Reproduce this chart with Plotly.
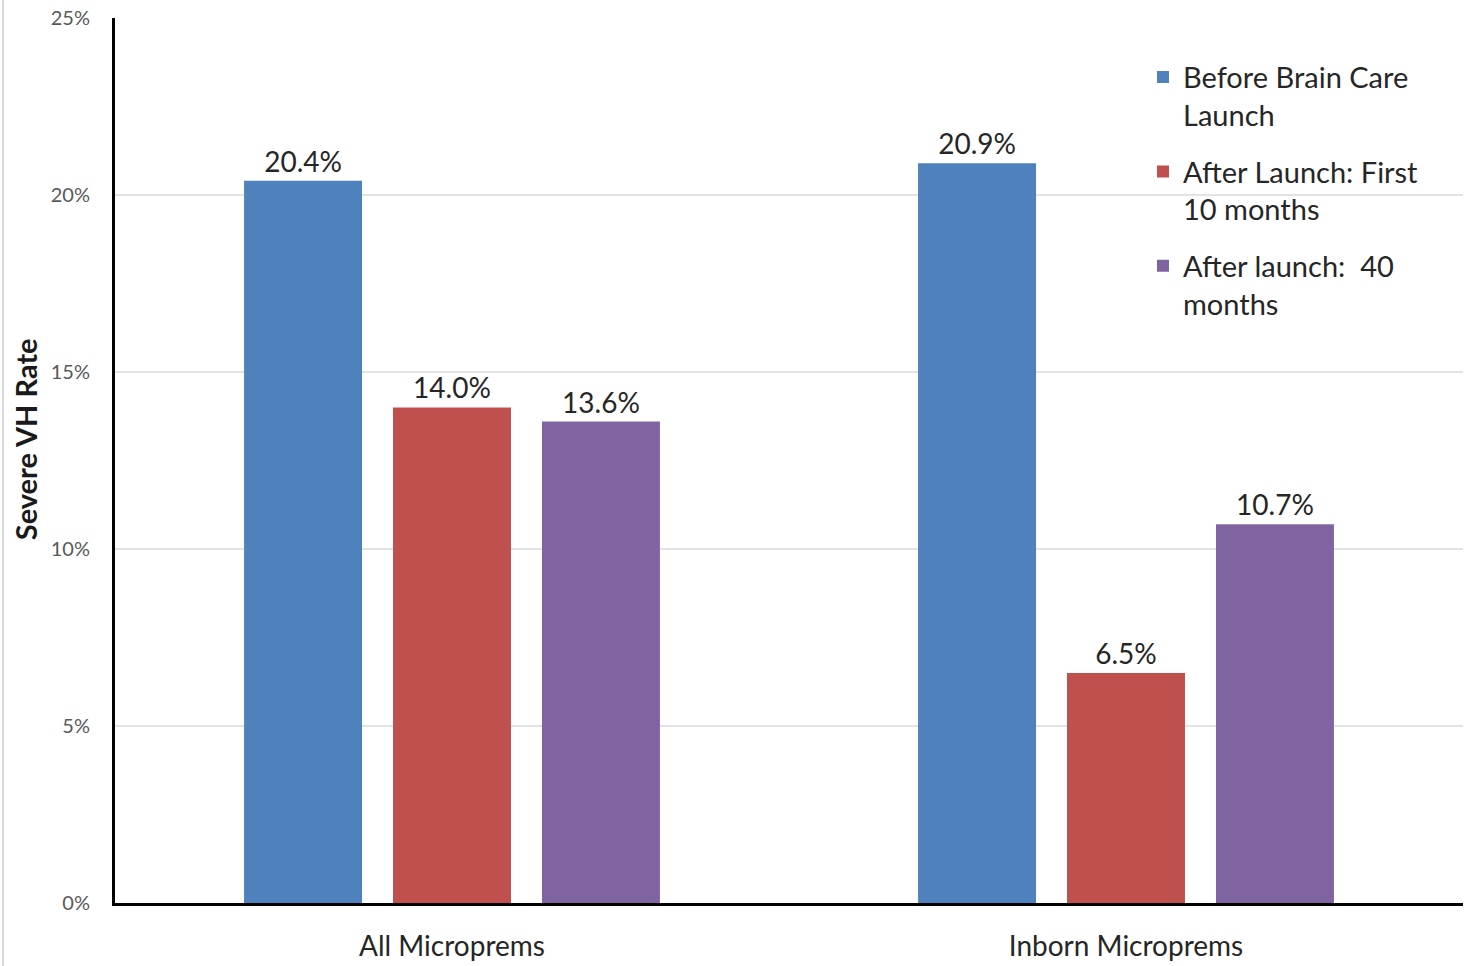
import plotly.graph_objects as go

categories = ["All Microprems", "Inborn Microprems"]
series_names = ["Before Brain Care<br>Launch", "After Launch: First<br>10 months", "After launch:  40<br>months"]
before = [0.204, 0.209]
first10 = [0.140, 0.065]
forty = [0.136, 0.107]
colors = ["#4F81BD", "#C0504D", "#8064A2"]
y_ticks = [0, 0.05, 0.10, 0.15, 0.20, 0.25]
y_tick_labels = ["0%", "5%", "10%", "15%", "20%", "25%"]
y_title = "Severe VH Rate"

FONT = "Lato"
fig = go.Figure()
for i, (name, vals, col) in enumerate(zip(series_names, [before, first10, forty], colors)):
    fig.add_trace(go.Bar(
        x=categories, y=vals, name=name, marker_color=col, marker_line_width=0,
        legendgroup=f"g{i}",
        text=[f"{v*100:.1f}%" for v in vals], textposition="outside",
        textfont=dict(family=FONT, size=28, color="#262626"), cliponaxis=False,
    ))

fig.update_layout(
    width=1470, height=966,
    margin=dict(l=115, r=7, t=18, b=63),
    paper_bgcolor="white", plot_bgcolor="white",
    barmode="group", bargap=0.337, bargroupgap=0.208,
    font=dict(family=FONT, color="#262626"),
    legend=dict(x=0.7626, y=0.962, xanchor="left", yanchor="top",
                bgcolor="rgba(0,0,0,0)", font=dict(family=FONT, size=29, color="#262626"),
                itemwidth=30, tracegroupgap=16, valign="top"),
    showlegend=True,
)
fig.update_xaxes(showline=True, linecolor="#000000", linewidth=3, automargin=False,
                 tickfont=dict(family=FONT, size=28, color="#262626"),
                 ticks="", ticklabelstandoff=16)
fig.update_yaxes(range=[0, 0.25], tickvals=y_ticks, ticktext=y_tick_labels, automargin=False,
                 showline=True, linecolor="#000000", linewidth=3,
                 showgrid=True, gridcolor="#E3E3E3", gridwidth=1.5,
                 tickfont=dict(family=FONT, size=20, color="#595959"),
                 ticks="", ticklabelstandoff=18, zeroline=False)
fig.add_annotation(text=f"<b>{y_title}</b>", xref="paper", yref="paper",
                   x=-0.0668, y=0.524, xanchor="center", yanchor="middle", textangle=-90,
                   showarrow=False, font=dict(family=FONT, size=29, color="#1a1a1a"))
fig.add_shape(type="line", xref="paper", yref="paper", x0=-0.0831, x1=-0.0831, y0=-0.08, y1=1.03,
              line=dict(color="#D9D9D9", width=2))
fig.write_html("out.html")
